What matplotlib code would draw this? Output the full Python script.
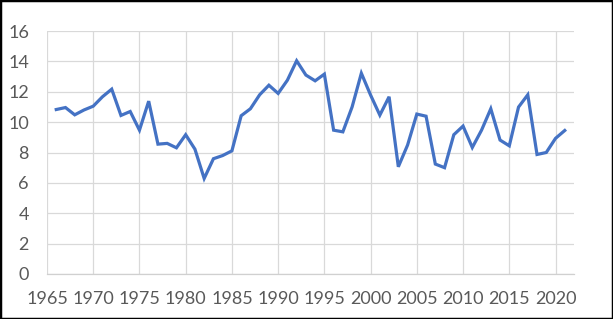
import matplotlib
matplotlib.use("Agg")
import matplotlib.pyplot as plt
from matplotlib.patches import Rectangle

years = list(range(1966, 2022))
values = [10.83, 10.96, 10.48, 10.80, 11.05, 11.67, 12.17, 10.44, 10.70, 9.47,
          11.38, 8.55, 8.60, 8.31, 9.17, 8.22, 6.29, 7.59, 7.80, 8.11,
          10.42, 10.88, 11.80, 12.43, 11.89, 12.76, 14.04, 13.10, 12.72, 13.16,
          9.47, 9.36, 11.00, 13.22, 11.78, 10.46, 11.67, 7.06, 8.49, 10.53,
          10.39, 7.24, 7.00, 9.17, 9.74, 8.33, 9.47, 10.88, 8.82, 8.44,
          10.99, 11.80, 7.87, 8.00, 8.93, 9.45]
x_ticks = list(range(1965, 2021, 5))
y_ticks = list(range(0, 17, 2))

plt.rcParams['font.family'] = ['Lato', 'DejaVu Sans']

fig = plt.figure(figsize=(6.13, 3.19), dpi=100)
ax = fig.add_axes([47/613, 1 - 274/319, (574 - 47)/613, (274 - 31)/319])

ax.plot(years, values, color='#4472C4', linewidth=2.3, solid_joinstyle='miter', zorder=3)

ax.set_xlim(1965, 2022)
ax.set_ylim(0, 16)
ax.set_xticks(x_ticks)
ax.set_yticks(y_ticks)
ax.grid(True, color='#d9d9d9', linewidth=0.9, zorder=0)
ax.set_axisbelow(True)
for s in ['top', 'right', 'left']:
    ax.spines[s].set_visible(False)
ax.spines['bottom'].set_color('#d0d0d0')
ax.spines['bottom'].set_linewidth(0.9)
ax.tick_params(axis='both', length=0, labelsize=13, labelcolor='#595959')
ax.tick_params(axis='x', pad=12)
ax.tick_params(axis='y', pad=13)

fig.patches.append(Rectangle((0, 0), 1, 1, transform=fig.transFigure,
                             fill=False, edgecolor='black', linewidth=2.5))

fig.savefig('out.png', dpi=100)
